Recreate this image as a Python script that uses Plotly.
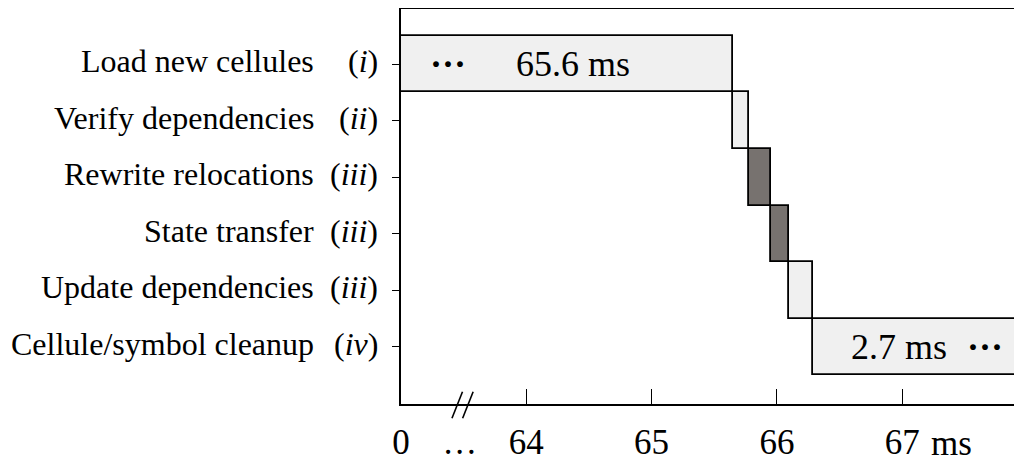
import plotly.graph_objects as go

# ---------------- data ----------------
tasks = ["Load new cellules", "Verify dependencies", "Rewrite relocations",
         "State transfer", "Update dependencies", "Cellule/symbol cleanup"]
phases = ["i", "ii", "iii", "iii", "iii", "iv"]
durations_ms = [65.65, 0.13, 0.17, 0.15, 0.185, 2.7]
highlighted = [False, False, True, True, False, False]
bar_labels = ["65.6 ms", "", "", "", "", "2.7 ms"]
x_tick_values = [0, 64, 65, 66, 67]
x_tick_text = ["0", "64", "65", "66", "67"]
x_axis_end_ms = 67.9
break_ms = 30  # a point inside the elided 0..64 stretch

# ---------------- broken time axis ----------------
BREAK_LO = 64.0   # real ms where the continuous part starts


def disp(t):
    """Map real time (ms) to display coordinate: 0..64 squeezed into 63..64."""
    return t if t >= BREAK_LO else (BREAK_LO - 1) + t / BREAK_LO


starts = []
acc = 0.0
for d in durations_ms:
    starts.append(acc)
    acc += d
ends = [s + d for s, d in zip(starts, durations_ms)]

bases = [disp(s) for s in starts]
widths = [disp(e) - disp(s) for s, e in zip(starts, ends)]
rows = list(range(len(tasks)))

LIGHT = "#f0f0f0"
DARK = "#77726f"
FONT = "Liberation Serif"

fig = go.Figure()
fig.add_trace(go.Bar(
    y=rows, x=widths, base=bases, orientation="h", width=1,
    marker=dict(color=[DARK if h else LIGHT for h in highlighted],
                line=dict(color="black", width=1.8)),
    showlegend=False, hoverinfo="skip", cliponaxis=True,
))
# invisible helper trace on the label axis
fig.add_trace(go.Scatter(x=[disp(0)], y=[0], xaxis="x2", mode="markers",
                         marker=dict(opacity=0), showlegend=False, hoverinfo="skip"))

label_vals = [disp(x_tick_values[0]), disp(break_ms)] + [disp(v) for v in x_tick_values[1:]]
label_text = [x_tick_text[0], ".\u200a.\u200a."] + x_tick_text[1:]

fig.update_layout(
    width=1014, height=455,
    margin=dict(l=393, r=7, t=1, b=59, autoexpand=False),
    paper_bgcolor="white", plot_bgcolor="white",
    font=dict(family=FONT, color="black"),
    bargap=0,
    xaxis=dict(range=[disp(0), disp(x_axis_end_ms)], showline=True, linecolor="black",
               linewidth=2, mirror=True, showgrid=False, zeroline=False, automargin=False,
               tickvals=[disp(v) for v in x_tick_values[1:]], ticks="inside",
               ticklen=15, tickwidth=1.3, tickcolor="black", showticklabels=False),
    xaxis2=dict(overlaying="x", matches="x", side="bottom", showline=False,
                showgrid=False, zeroline=False, ticks="", automargin=False,
                tickvals=label_vals, ticktext=label_text,
                tickfont=dict(family=FONT, size=35, color="black"),
                ticklabelstandoff=14),
    yaxis=dict(range=[6.01, -0.976], showline=True, linecolor="black", linewidth=2,
               mirror=True, showgrid=False, zeroline=False, automargin=False,
               tickvals=rows, ticks="outside", ticklen=7, tickwidth=1.3,
               tickcolor="black", showticklabels=False),
)

ann = []
for r, name, ph in zip(rows, tasks, phases):
    ann.append(dict(x=-0.138, y=r, xref="paper", yref="y", text=name,
                    xanchor="right", yanchor="middle", showarrow=False, yshift=3,
                    font=dict(family=FONT, size=32, color="black")))
    ann.append(dict(x=-0.034, y=r, xref="paper", yref="y", text=f"(<i>{ph}</i>)",
                    xanchor="right", yanchor="middle", showarrow=False, yshift=3,
                    font=dict(family=FONT, size=32, color="black")))

# labels inside the long bars
ann.append(dict(x=63.375, y=0, xref="x", yref="y", text="<b>···</b>", showarrow=False,
                font=dict(family=FONT, size=36, color="black")))
ann.append(dict(x=64.375, y=0, xref="x", yref="y", text=bar_labels[0], showarrow=False,
                font=dict(family=FONT, size=36, color="black")))
ann.append(dict(x=66.977, y=5, xref="x", yref="y", text=bar_labels[5], showarrow=False,
                font=dict(family=FONT, size=36, color="black")))
ann.append(dict(x=67.663, y=5, xref="x", yref="y", text="<b>···</b>", showarrow=False,
                font=dict(family=FONT, size=36, color="black")))
# unit after last tick
ann.append(dict(x=disp(x_tick_values[-1]), y=0, xref="x", yref="paper", text="ms",
                xanchor="left", yanchor="top", xshift=27, yshift=-18, showarrow=False,
                font=dict(family=FONT, size=35, color="black")))
fig.update_layout(annotations=ann)

# axis-break marks "//"
bx = disp(break_ms)
for dx in (-0.02, 0.065):
    fig.add_shape(type="line", xref="x", yref="paper",
                  x0=bx + dx - 0.042, x1=bx + dx + 0.042, y0=-0.036, y1=0.031,
                  line=dict(color="black", width=1.6))

fig.write_html("out.html")
